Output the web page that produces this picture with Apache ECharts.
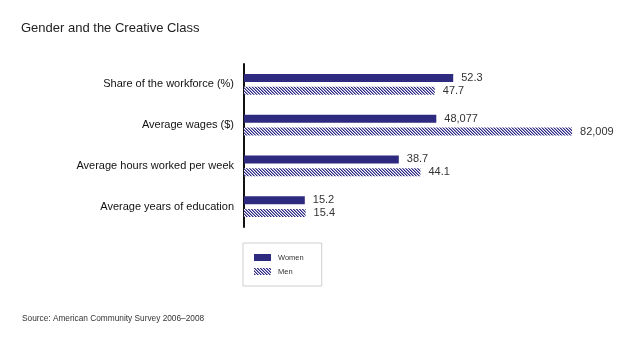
<!DOCTYPE html>
<html>
<head>
<meta charset="utf-8">
<script src="https://cdn.jsdelivr.net/npm/echarts@6/dist/echarts.min.js"></script>
<style>
html,body{margin:0;padding:0;background:#fff;}
#chart{width:640px;height:344px;}
</style>
</head>
<body>
<div id="chart"></div>
<script>
// Data
var categories = ['Share of the workforce (%)', 'Average wages ($)', 'Average hours worked per week', 'Average years of education'];
var womenValues = [52.3, 48077, 38.7, 15.2];
var menValues = [47.7, 82009, 44.1, 15.4];
// bar lengths share one scale once wages are expressed in thousands
var unitDivisor = [1, 1000, 1, 1];
var seriesNames = ['Women', 'Men'];

var WOMEN_COLOR = '#2e2a80';

function hatch() {
  var c = document.createElement('canvas');
  c.width = 3; c.height = 3;
  var ctx = c.getContext('2d');
  for (var y = 0; y < 3; y++) {
    for (var x = 0; x < 3; x++) {
      var k = ((x - y) % 3 + 3) % 3;
      ctx.fillStyle = k === 0 ? WOMEN_COLOR : (k === 1 ? '#8e8bc6' : '#ffffff');
      ctx.fillRect(x, y, 1, 1);
    }
  }
  return c;
}

function fmt(v, i) {
  return unitDivisor[i] === 1000 ? v.toLocaleString('en-US') : String(v);
}
function toData(arr) {
  return arr.map(function (v, i) { return { value: v / unitDivisor[i], raw: v }; });
}

var FONT = '"Liberation Sans", Arial, Helvetica, sans-serif';
var chart = echarts.init(document.getElementById('chart'), null, { renderer: 'canvas' });
var labelCfg = {
  show: true, position: 'right', distance: 8,
  fontFamily: FONT, fontSize: 11, color: '#333',
  formatter: function (p) { return fmt(p.data.raw, p.dataIndex); }
};
chart.setOption({
  animation: false,
  backgroundColor: '#ffffff',
  title: [{
    text: 'Gender and the Creative Class',
    left: 21, top: 22, padding: 0,
    textStyle: { fontFamily: FONT, fontSize: 13, fontWeight: 'normal', color: '#222' }
  }, {
    text: 'Source: American Community Survey 2006–2008',
    left: 22, top: 315, padding: 0,
    textStyle: { fontFamily: FONT, fontSize: 8.3, fontWeight: 'normal', color: '#333' }
  }],
  legend: {
    data: seriesNames,
    orient: 'vertical',
    left: 243, top: 243,
    padding: [10, 18, 10, 11],
    borderColor: '#cfcfcf', borderWidth: 1,
    itemWidth: 17, itemHeight: 7, itemGap: 5,
    icon: 'rect',
    textStyle: { fontFamily: FONT, fontSize: 7.5, color: '#333', lineHeight: 9, padding: [0, 0, 0, 2] }
  },
  grid: { left: 244, top: 64, width: 360, height: 163, containLabel: false },
  xAxis: {
    type: 'value', min: 0, max: 90, show: false
  },
  yAxis: {
    type: 'category', data: categories, inverse: true,
    axisLine: { show: true, lineStyle: { color: '#111', width: 2 } },
    axisTick: { show: false },
    axisLabel: { fontFamily: FONT, fontSize: 11, color: '#111', margin: 10 }
  },
  series: [{
    name: seriesNames[0], type: 'bar', data: toData(womenValues),
    barWidth: 8, barGap: '62%',
    itemStyle: { color: WOMEN_COLOR },
    label: labelCfg
  }, {
    name: seriesNames[1], type: 'bar', data: toData(menValues),
    barWidth: 8, barGap: '62%',
    itemStyle: { color: { image: hatch(), repeat: 'repeat' } },
    label: labelCfg
  }]
});
</script>
</body>
</html>
